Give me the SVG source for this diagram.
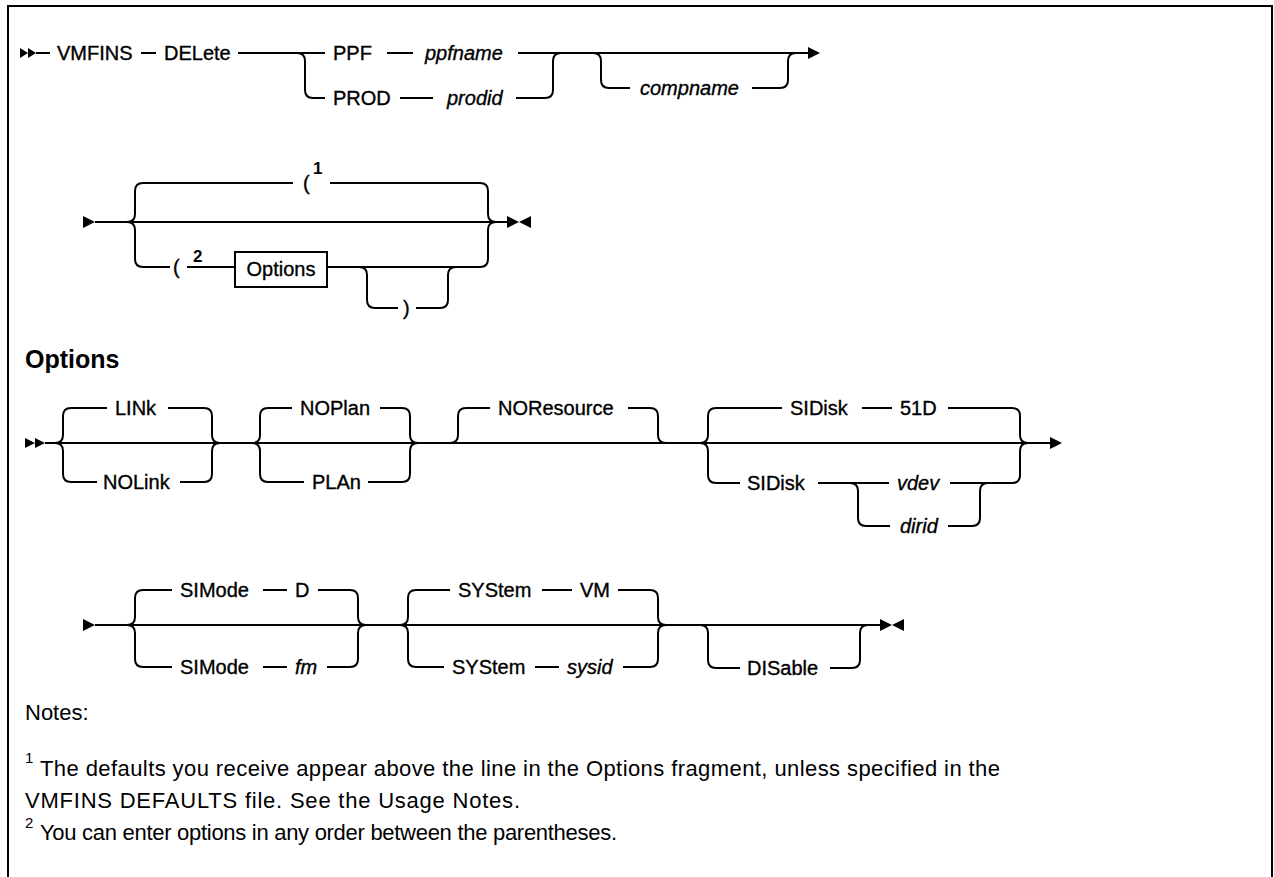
<svg xmlns="http://www.w3.org/2000/svg" width="1274" height="877" viewBox="0 0 1274 877">
<style>
.ln{fill:none;stroke:#000;stroke-width:2}
.ah{fill:#000;stroke:none}
.t{font-family:"Liberation Sans",Arial,sans-serif;font-size:20px;fill:#000;stroke:#000;stroke-width:0.35}
.i{font-style:italic}
.sup{font-family:"Liberation Sans",Arial,sans-serif;font-size:17px;font-weight:bold;fill:#000}
.h{font-family:"Liberation Sans",Arial,sans-serif;font-size:25px;font-weight:bold;fill:#000}
.n{font-family:"Liberation Sans",Arial,sans-serif;font-size:22px;fill:#000}
.ns{font-family:"Liberation Sans",Arial,sans-serif;font-size:15px;fill:#000}
</style>
<rect x="0" y="0" width="1274" height="877" fill="#fff"/>
<path class="ln" d="M8,890 V6 H1272 V890"/>

<g id="connectors">
<!-- row 1 -->
<path class="ln" d="M36,53 H50 M141,53 H156 M238,53 H325 M387,53 H413 M518,53 H808"/>
<path class="ln" d="M297,53 Q305,53 305,61 V90 Q305,98 313,98 H325 M400,98 H433 M516,98 H545 Q553,98 553,90 V61 Q553,53 561,53"/>
<path class="ln" d="M593,53 Q601,53 601,61 V80 Q601,88 609,88 H630 M752,88 H780 Q788,88 788,80 V61 Q788,53 796,53"/>
<!-- row 2 -->
<path class="ln" d="M95,222 H507"/>
<path class="ln" d="M127,222 Q135,222 135,214 V191 Q135,183 143,183 H293 M330,183 H480 Q488,183 488,191 V214 Q488,222 496,222"/>
<path class="ln" d="M127,222 Q135,222 135,230 V259 Q135,267 143,267 H170 M187,267 H235 M327,267 H480 Q488,267 488,259 V230 Q488,222 496,222"/>
<path class="ln" d="M359,267 Q367,267 367,275 V300 Q367,308 375,308 H398 M416,308 H440 Q448,308 448,300 V275 Q448,267 456,267"/>
<!-- row 3 -->
<path class="ln" d="M45,443 H1050"/>
<path class="ln" d="M55,443 Q63,443 63,435 V416 Q63,408 71,408 H107 M168,408 H204 Q212,408 212,416 V435 Q212,443 220,443"/>
<path class="ln" d="M55,443 Q63,443 63,451 V474 Q63,482 71,482 H97 M180,482 H204 Q212,482 212,474 V451 Q212,443 220,443"/>
<path class="ln" d="M252,443 Q260,443 260,435 V416 Q260,408 268,408 H292 M380,408 H402 Q410,408 410,416 V435 Q410,443 418,443"/>
<path class="ln" d="M252,443 Q260,443 260,451 V474 Q260,482 268,482 H304 M368,482 H402 Q410,482 410,474 V451 Q410,443 418,443"/>
<path class="ln" d="M450,443 Q458,443 458,435 V416 Q458,408 466,408 H490 M628,408 H650 Q658,408 658,416 V435 Q658,443 666,443"/>
<path class="ln" d="M700,443 Q708,443 708,435 V416 Q708,408 716,408 H782 M862,408 H892 M948,408 H1012 Q1020,408 1020,416 V435 Q1020,443 1028,443"/>
<path class="ln" d="M700,443 Q708,443 708,451 V475 Q708,483 716,483 H740 M818,483 H889 M950,483 H1012 Q1020,483 1020,475 V451 Q1020,443 1028,443"/>
<path class="ln" d="M850,483 Q858,483 858,491 V518 Q858,526 866,526 H890 M948,526 H972 Q980,526 980,518 V491 Q980,483 988,483"/>
<!-- row 4 -->
<path class="ln" d="M95,625 H880"/>
<path class="ln" d="M127,625 Q135,625 135,617 V598 Q135,590 143,590 H172 M263,590 H287 M318,590 H350 Q358,590 358,598 V617 Q358,625 366,625"/>
<path class="ln" d="M127,625 Q135,625 135,633 V659 Q135,667 143,667 H172 M263,667 H287 M327,667 H350 Q358,667 358,659 V633 Q358,625 366,625"/>
<path class="ln" d="M400,625 Q408,625 408,617 V598 Q408,590 416,590 H450 M542,590 H572 M618,590 H650 Q658,590 658,598 V617 Q658,625 666,625"/>
<path class="ln" d="M400,625 Q408,625 408,633 V659 Q408,667 416,667 H444 M535,667 H559 M623,667 H650 Q658,667 658,659 V633 Q658,625 666,625"/>
<path class="ln" d="M700,625 Q708,625 708,633 V660 Q708,668 716,668 H740 M830,668 H852 Q860,668 860,660 V633 Q860,625 868,625"/>
<!-- arrowheads -->
<path class="ah" d="M20,48 L28,53 L20,58 Z M28,48 L36,53 L28,58 Z"/>
<path class="ah" d="M808,47 L820,53 L808,59 Z"/>
<path class="ah" d="M83,216 L95,222 L83,228 Z"/>
<path class="ah" d="M507,216 L519,222 L507,228 Z M531,216 L519,222 L531,228 Z"/>
<path class="ah" d="M25,438 L35,443 L25,448 Z M35,438 L45,443 L35,448 Z"/>
<path class="ah" d="M1050,437 L1062,443 L1050,449 Z"/>
<path class="ah" d="M83,619 L95,625 L83,631 Z"/>
<path class="ah" d="M880,619 L892,625 L880,631 Z M904,619 L892,625 L904,631 Z"/>
</g>

<g id="n-vmfins"><text class="t" x="57" y="60">VMFINS</text></g>
<g id="n-delete"><text class="t" x="164" y="60">DELete</text></g>
<g id="n-ppf"><text class="t" x="333" y="60">PPF</text></g>
<g id="n-ppfname"><text class="t i" x="425" y="60">ppfname</text></g>
<g id="n-prod"><text class="t" x="333" y="105">PROD</text></g>
<g id="n-prodid"><text class="t i" x="447" y="105">prodid</text></g>
<g id="n-compname"><text class="t i" x="640" y="95">compname</text></g>

<g id="n-paren1"><text class="t" x="303" y="190">(</text><text class="sup" x="313" y="174">1</text></g>
<g id="n-paren2"><text class="t" x="173" y="274">(</text><text class="sup" x="193" y="262">2</text></g>
<g id="n-options-ref"><rect x="235" y="252" width="92" height="35" fill="#fff" stroke="#000" stroke-width="2"/><text class="t" x="281" y="276" text-anchor="middle">Options</text></g>
<g id="n-paren-close"><text class="t" x="403" y="315">)</text></g>

<g id="h-options"><text class="h" x="25" y="368">Options</text></g>

<g id="n-link"><text class="t" x="115" y="415">LINk</text></g>
<g id="n-nolink"><text class="t" x="103" y="489">NOLink</text></g>
<g id="n-noplan"><text class="t" x="300" y="415">NOPlan</text></g>
<g id="n-plan"><text class="t" x="312" y="489">PLAn</text></g>
<g id="n-noresource"><text class="t" x="498" y="415">NOResource</text></g>
<g id="n-sidisk1"><text class="t" x="790" y="415">SIDisk</text><text class="t" x="900" y="415">51D</text></g>
<g id="n-sidisk2"><text class="t" x="747" y="490">SIDisk</text></g>
<g id="n-vdev"><text class="t i" x="897" y="490">vdev</text></g>
<g id="n-dirid"><text class="t i" x="900" y="533">dirid</text></g>

<g id="n-simode1"><text class="t" x="180" y="597">SIMode</text><text class="t" x="295" y="597">D</text></g>
<g id="n-simode2"><text class="t" x="180" y="674">SIMode</text><text class="t i" x="295" y="674">fm</text></g>
<g id="n-system1"><text class="t" x="458" y="597">SYStem</text><text class="t" x="580" y="597">VM</text></g>
<g id="n-system2"><text class="t" x="452" y="674">SYStem</text><text class="t i" x="567" y="674">sysid</text></g>
<g id="n-disable"><text class="t" x="747" y="675">DISable</text></g>

<g id="notes">
<text class="n" x="25" y="720">Notes:</text>
<text class="ns" x="25" y="763">1</text>
<text class="n" x="40" y="776" textLength="960">The defaults you receive appear above the line in the Options fragment, unless specified in the</text>
<text class="n" x="25" y="808" textLength="495">VMFINS DEFAULTS file. See the Usage Notes.</text>
<text class="ns" x="25" y="828">2</text>
<text class="n" x="40" y="840" textLength="577">You can enter options in any order between the parentheses.</text>
</g>
</svg>
